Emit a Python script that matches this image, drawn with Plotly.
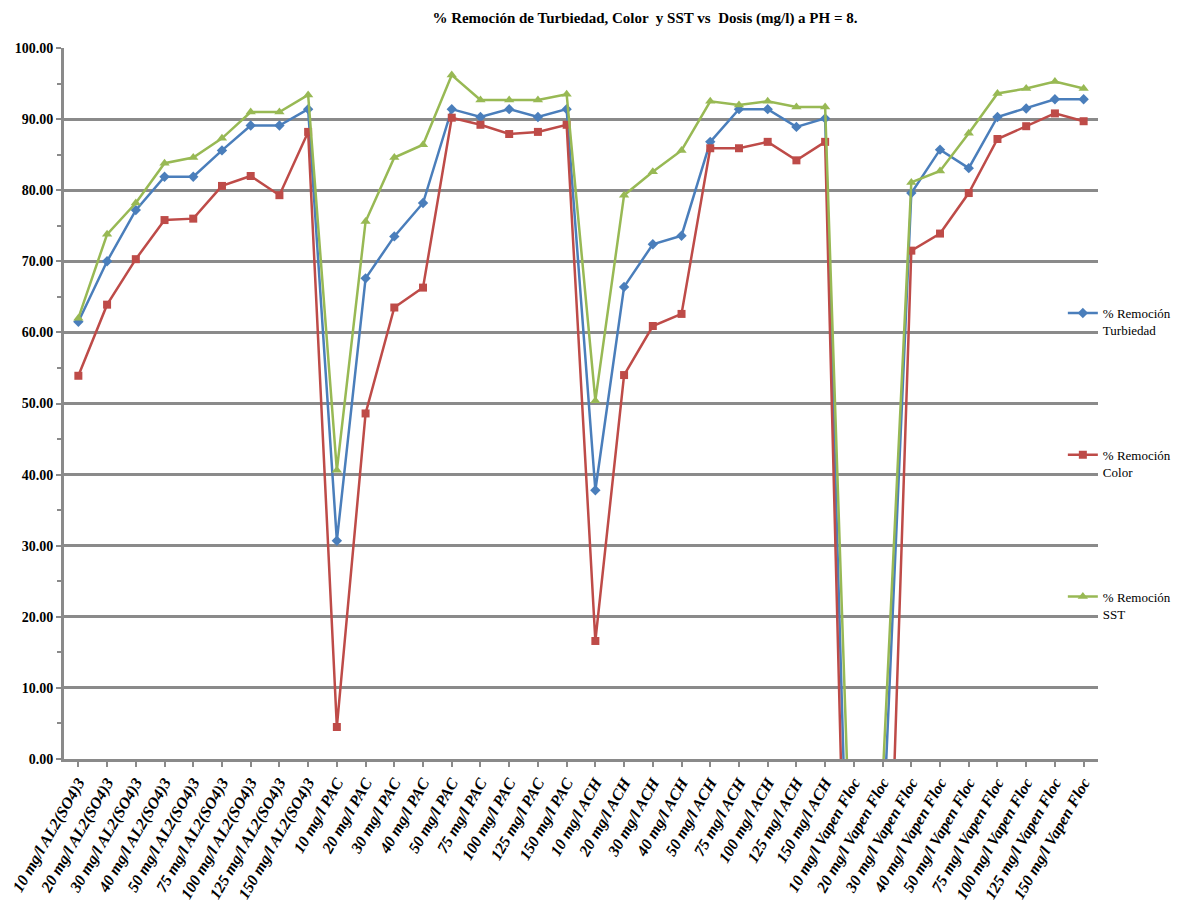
import plotly.graph_objects as go

# Dosis por coagulante
categorias = (
    [f"{d} mg/l AL2(SO4)3" for d in (10, 20, 30, 40, 50, 75, 100, 125, 150)]
    + [f"{d} mg/l PAC" for d in (10, 20, 30, 40, 50, 75, 100, 125, 150)]
    + [f"{d} mg/l ACH" for d in (10, 20, 30, 40, 50, 75, 100, 125, 150)]
    + [f"{d} mg/l Vapen Floc" for d in (10, 20, 30, 40, 50, 75, 100, 125, 150)]
)

remocion_turbiedad = [
    61.5, 70.0, 77.2, 81.9, 81.9, 85.6, 89.1, 89.1, 91.4,
    30.7, 67.6, 73.5, 78.2, 91.4, 90.3, 91.4, 90.3, 91.4,
    37.8, 66.4, 72.4, 73.6, 86.8, 91.4, 91.4, 88.9, 90.1,
    -51.0, -11.8, 79.6, 85.7, 83.1, 90.3, 91.5, 92.8, 92.8,
]
remocion_color = [
    53.9, 63.9, 70.3, 75.8, 76.0, 80.6, 82.0, 79.3, 88.2,
    4.5, 48.6, 63.5, 66.3, 90.2, 89.2, 87.9, 88.2, 89.2,
    16.6, 54.0, 60.9, 62.6, 85.9, 85.9, 86.8, 84.2, 86.8,
    -71.9, -51.6, 71.5, 73.9, 79.6, 87.2, 89.0, 90.8, 89.7,
]
remocion_sst = [
    62.0, 73.8, 78.2, 83.8, 84.6, 87.3, 91.0, 91.0, 93.4,
    40.6, 75.6, 84.6, 86.4, 96.2, 92.7, 92.7, 92.7, 93.5,
    50.4, 79.3, 82.6, 85.6, 92.5, 92.0, 92.5, 91.7, 91.7,
    -29.6, -3.0, 81.1, 82.7, 88.0, 93.6, 94.3, 95.3, 94.3,
]

y_ticks = list(range(0, 101, 10))

series = [
    ("% Remoción<br>Turbiedad", remocion_turbiedad, "#4a7ebb", "diamond", 8),
    ("% Remoción<br>Color", remocion_color, "#be4b48", "square", 8),
    ("% Remoción<br>SST", remocion_sst, "#98b954", "triangle-up", 9),
]

fig = go.Figure()
for i, (name, vals, color, symbol, size) in enumerate(series):
    fig.add_trace(go.Scatter(
        x=categorias, y=vals, name=name, mode="lines+markers",
        legendgroup=f"g{i}",
        line=dict(color=color, width=2.5),
        marker=dict(symbol=symbol, size=size, color=color),
    ))

serif = "Liberation Serif"
grid = "#8a8a8a"

fig.update_layout(
    width=1178, height=911,
    paper_bgcolor="white", plot_bgcolor="white",
    margin=dict(l=64, r=80, t=48, b=152, autoexpand=False),
    title=dict(
        text="<b>% Remoción de Turbiedad, Color  y SST vs  Dosis (mg/l) a PH = 8.</b>",
        x=0.5475, xanchor="center", xref="container",
        y=1 - 18 / 911, yanchor="middle", yref="container",
        font=dict(family=serif, size=15, color="black"),
    ),
    legend=dict(
        x=0.966, xanchor="left", y=(911 - 152 - 298) / 711, yanchor="top",
        font=dict(family=serif, size=13, color="black"),
        tracegroupgap=105, valign="top", itemwidth=30,
        bgcolor="rgba(0,0,0,0)",
    ),
    showlegend=True,
)

fig.update_xaxes(
    type="category", range=[-0.5, len(categorias) - 0.5],
    showgrid=False, showline=True, linecolor=grid, linewidth=3,
    ticks="outside", ticklen=5, tickwidth=2, tickcolor=grid,
    tickangle=-60,
    tickfont=dict(family=serif, size=16, color="black", weight="bold", style="italic"),
)
fig.update_yaxes(
    range=[0, 100], tickvals=y_ticks, tickformat=".2f",
    showgrid=True, gridcolor=grid, gridwidth=2.5,
    showline=True, linecolor=grid, linewidth=3,
    zeroline=False,
    ticks="outside", ticklen=5, tickwidth=2, tickcolor=grid,
    minor=dict(dtick=5, ticks="outside", ticklen=4, tickwidth=2, tickcolor=grid, showgrid=False),
    tickfont=dict(family=serif, size=14, color="black", weight="bold"),
)

fig.write_html("out.html")
